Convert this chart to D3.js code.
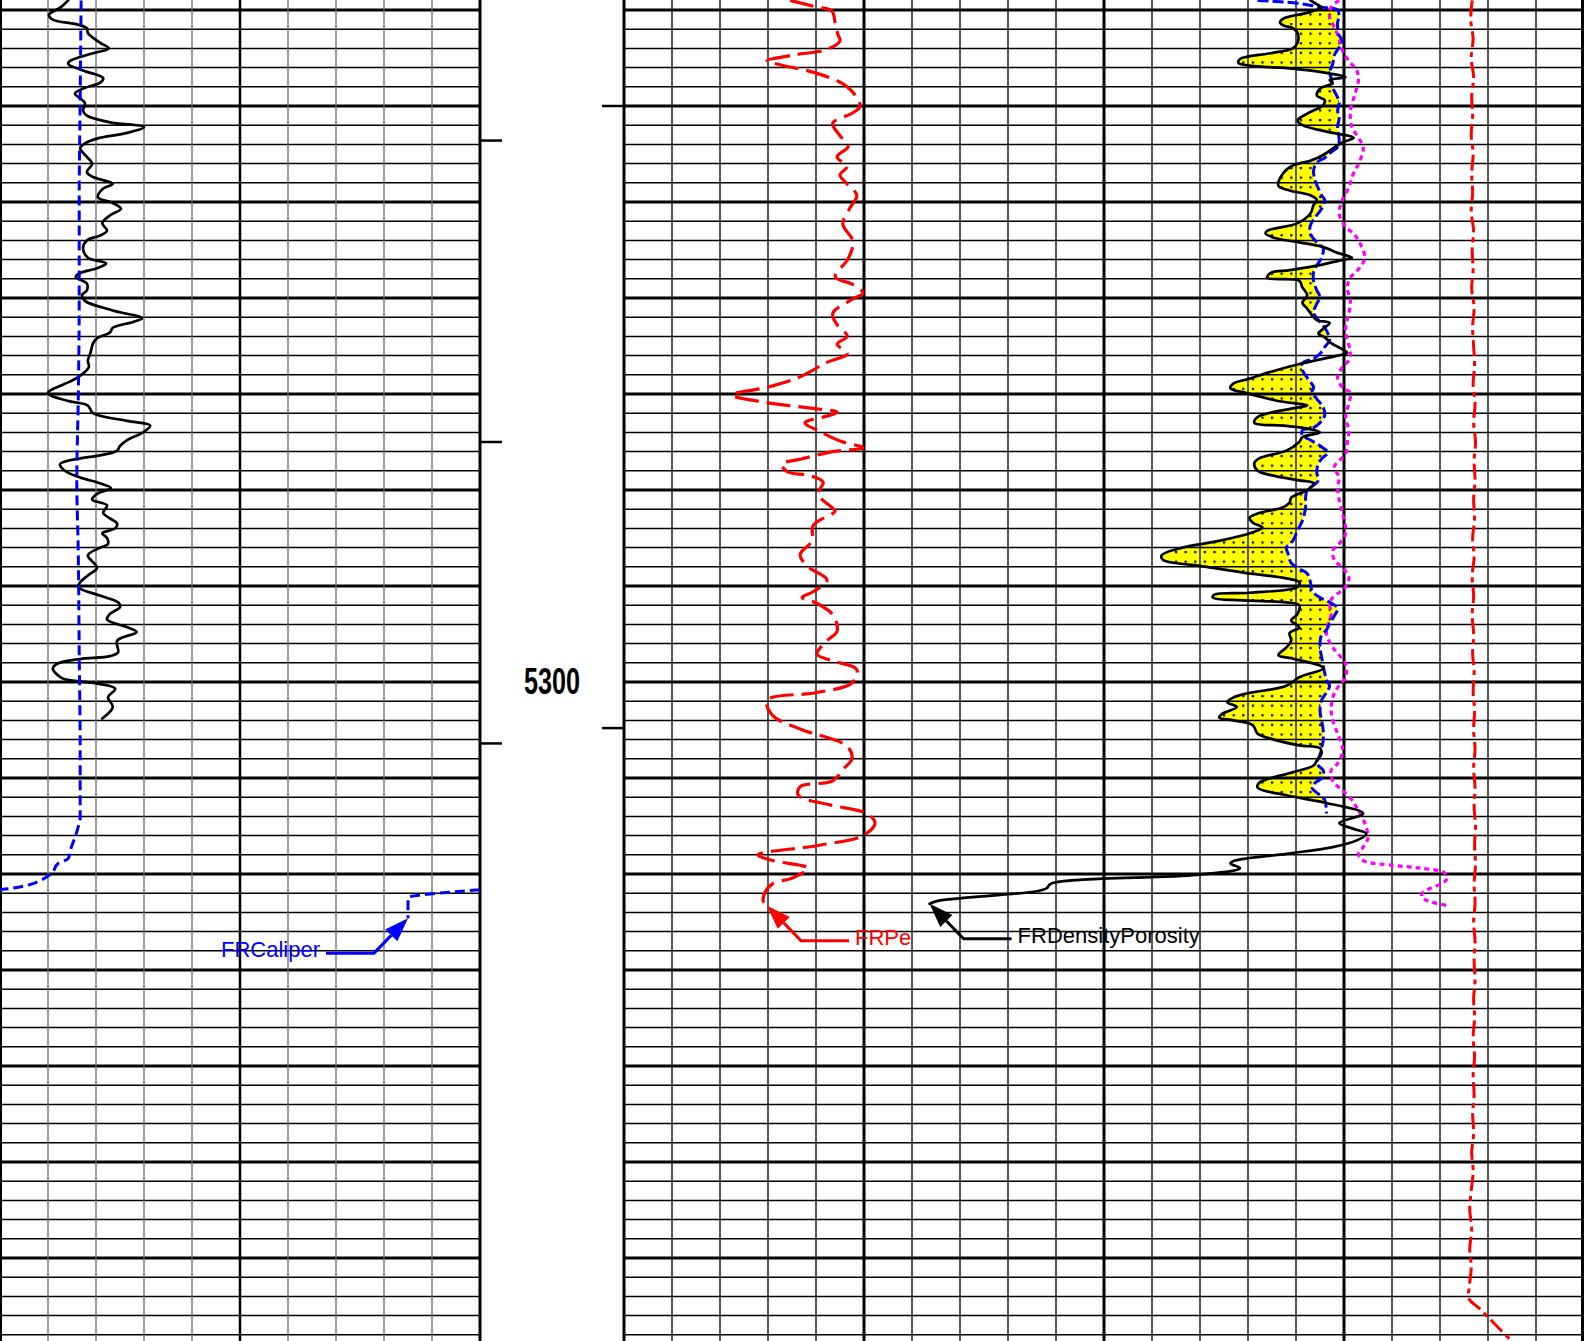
<!DOCTYPE html>
<html>
<head>
<meta charset="utf-8">
<script src="https://cdn.jsdelivr.net/npm/d3@7"></script>
<style>
  html, body { margin: 0; padding: 0; background: #fff; overflow: hidden; }
  svg { display: block; }
</style>
</head>
<body>
<svg id="log" width="1584" height="1341"></svg>
<script>
// ---- Log curves: [depth (ft), value] ----
// Gamma ray, API (left track, 0-100)
const gammaRay = [[5229.0,14.2],[5229.7,12.7],[5230.5,10.2],[5231.0,11.0],[5231.5,16.0],[5231.9,18.1],[5232.4,18.3],[5233.4,20.8],[5234.0,22.7],[5234.5,19.4],[5235.3,14.6],[5235.6,14.2],[5236.3,17.3],[5237.1,21.5],[5237.6,20.8],[5238.1,17.7],[5238.7,15.6],[5239.2,16.7],[5239.7,17.7],[5240.5,17.3],[5241.0,18.1],[5241.7,22.9],[5242.2,30.0],[5242.8,26.5],[5243.4,20.2],[5243.9,17.7],[5244.4,16.7],[5245.4,18.3],[5246.0,19.2],[5246.9,18.1],[5247.4,19.4],[5248.1,23.5],[5248.6,21.5],[5249.5,20.4],[5250.1,23.5],[5250.7,25.2],[5251.4,22.9],[5252.2,21.3],[5253.0,22.3],[5253.5,20.8],[5254.0,18.1],[5254.8,17.3],[5255.8,18.3],[5256.4,22.1],[5256.9,20.2],[5257.4,16.7],[5257.8,15.8],[5258.5,18.1],[5259.2,18.1],[5259.7,17.1],[5260.3,17.7],[5261.3,23.5],[5262.1,29.6],[5262.5,27.7],[5263.1,23.5],[5263.6,22.9],[5264.2,20.2],[5264.7,19.4],[5265.8,18.8],[5266.5,18.3],[5267.2,18.5],[5268.1,16.7],[5268.6,15.0],[5269.9,10.0],[5270.7,14.0],[5271.2,18.3],[5272.0,19.4],[5272.8,26.5],[5273.3,31.3],[5274.0,29.8],[5274.8,26.5],[5275.4,25.0],[5275.9,24.4],[5276.4,20.8],[5276.7,16.7],[5277.3,12.5],[5278.0,13.5],[5278.7,16.7],[5279.3,20.8],[5279.8,23.1],[5280.4,20.2],[5281.0,19.2],[5281.6,22.3],[5282.4,21.5],[5283.5,24.4],[5284.0,24.0],[5284.5,21.3],[5285.0,22.3],[5285.6,22.5],[5286.1,20.4],[5286.8,18.3],[5288.1,20.2],[5288.9,18.3],[5289.6,16.7],[5290.1,16.3],[5291.0,20.8],[5291.7,24.6],[5292.2,25.0],[5292.9,22.9],[5293.5,22.3],[5294.3,26.5],[5294.8,28.5],[5295.7,24.4],[5296.9,24.6],[5297.3,22.9],[5297.6,16.7],[5298.1,11.9],[5298.6,11.0],[5299.6,12.9],[5299.9,16.0],[5300.1,19.4],[5300.7,24.0],[5301.6,22.5],[5302.6,23.5],[5303.8,21.3]];

// FRCaliper, inches (left track 6-16, wraps around below 6)
const caliper = [[5229.0,7.69],[5239.4,7.67],[5249.8,7.65],[5260.3,7.65],[5270.7,7.63],[5279.0,7.60],[5286.3,7.63],[5296.7,7.65],[5307.1,7.67],[5314.1,7.67],[5315.1,7.63],[5316.2,7.56],[5317.3,7.48],[5318.4,7.42],[5318.9,7.21],[5319.9,7.08],[5320.7,6.83],[5321.1,6.63],[5321.6,6.06],[5322.5,4.50],[5324.6,4.50]];

// FRPe, b/e (right track 0-20)
const photoElectric = [[5229.0,3.46],[5229.7,4.02],[5230.1,4.33],[5231.4,4.40],[5232.6,4.46],[5233.2,4.50],[5234.1,4.23],[5234.7,3.52],[5235.3,2.98],[5235.7,3.25],[5236.6,4.02],[5238.0,4.65],[5240.0,4.92],[5240.7,4.77],[5241.8,4.35],[5243.1,4.50],[5244.2,4.67],[5245.3,4.44],[5246.3,4.65],[5247.2,4.50],[5249.3,4.85],[5250.6,4.71],[5252.3,4.56],[5254.1,4.77],[5255.9,4.67],[5257.8,4.40],[5258.6,4.77],[5259.5,4.98],[5260.1,4.77],[5261.6,4.35],[5262.8,4.44],[5264.0,4.65],[5264.8,4.44],[5265.8,4.65],[5266.7,4.23],[5268.2,3.67],[5269.3,2.98],[5270.1,2.25],[5270.9,2.98],[5271.5,3.94],[5271.9,4.44],[5272.3,4.23],[5273.0,3.77],[5273.9,4.08],[5274.9,4.50],[5275.6,4.98],[5276.0,4.35],[5276.8,3.67],[5277.3,3.29],[5278.1,3.40],[5278.5,3.88],[5279.2,4.15],[5280.4,4.04],[5281.9,4.35],[5282.2,4.40],[5283.7,3.94],[5285.3,3.92],[5286.7,3.67],[5287.9,3.81],[5289.4,4.23],[5290.6,3.94],[5291.2,3.71],[5291.8,4.02],[5293.0,4.35],[5294.7,4.44],[5295.7,4.23],[5297.1,4.02],[5297.8,4.35],[5298.7,4.85],[5300.1,4.75],[5301.1,4.02],[5301.9,2.98],[5303.5,3.10],[5304.9,3.67],[5306.7,4.65],[5308.0,4.75],[5309.1,4.56],[5310.3,4.35],[5310.9,3.67],[5311.8,3.63],[5312.8,4.29],[5313.7,5.06],[5314.7,5.23],[5316.0,4.98],[5317.0,4.08],[5318.0,2.79],[5318.6,3.10],[5319.4,3.83],[5320.4,3.52],[5321.0,3.10],[5321.9,2.94],[5322.8,2.90],[5323.3,2.98]];

// FRDensityPorosity, % (right track 45 to -15)
const densityPorosity = [[5229.0,2.1],[5229.5,1.6],[5229.7,1.4],[5230.3,2.3],[5230.6,3.2],[5230.9,3.8],[5231.3,4.0],[5231.6,3.8],[5231.9,3.2],[5232.4,2.9],[5233.4,2.9],[5234.0,3.2],[5234.5,4.6],[5235.1,6.5],[5235.5,6.6],[5235.8,5.9],[5236.1,3.2],[5236.5,1.3],[5237.0,-0.1],[5237.3,0.9],[5237.6,0.7],[5238.2,1.5],[5238.9,1.7],[5239.4,1.2],[5239.9,1.3],[5240.8,2.3],[5241.5,2.9],[5242.0,2.6],[5242.8,0.7],[5243.3,-0.6],[5243.8,0.1],[5244.3,0.6],[5245.1,1.3],[5245.7,2.1],[5246.2,3.2],[5247.0,3.8],[5248.3,4.1],[5248.8,3.4],[5249.3,2.1],[5249.8,1.7],[5250.3,1.9],[5251.2,2.1],[5252.2,2.9],[5253.0,4.8],[5253.3,4.9],[5253.8,4.2],[5254.2,2.8],[5254.7,1.3],[5255.3,0.4],[5255.8,-0.5],[5256.1,0.3],[5256.6,1.6],[5257.1,3.4],[5257.4,4.6],[5257.9,4.8],[5258.2,2.8],[5258.9,2.6],[5259.7,2.3],[5260.5,2.6],[5261.1,2.3],[5261.8,2.0],[5262.3,1.7],[5262.6,0.9],[5263.2,1.3],[5263.7,1.6],[5264.1,1.2],[5264.7,0.8],[5265.7,-0.2],[5266.0,0.4],[5266.8,2.6],[5267.8,4.8],[5268.4,5.9],[5268.9,6.9],[5269.4,7.1],[5269.9,6.1],[5270.7,4.2],[5271.2,2.3],[5271.5,3.2],[5272.4,5.4],[5273.0,5.6],[5273.3,3.8],[5273.6,2.3],[5274.0,1.5],[5274.5,2.6],[5275.0,2.8],[5275.9,3.6],[5276.7,5.3],[5277.2,5.6],[5278.0,5.4],[5278.5,4.4],[5279.0,2.8],[5279.3,1.9],[5280.0,2.3],[5280.8,3.3],[5281.3,3.4],[5281.8,3.8],[5282.4,5.3],[5282.9,5.9],[5283.4,5.7],[5283.9,5.1],[5284.4,5.7],[5285.3,7.8],[5286.0,10.1],[5286.8,11.4],[5287.3,11.3],[5287.9,9.0],[5288.6,6.3],[5289.2,3.6],[5289.6,2.8],[5290.1,2.9],[5290.7,5.9],[5290.9,8.1],[5291.2,8.2],[5291.5,6.3],[5291.7,3.6],[5292.0,2.8],[5292.9,2.9],[5293.6,3.3],[5294.3,2.8],[5294.9,3.4],[5295.7,3.3],[5296.4,3.6],[5297.2,4.1],[5297.5,3.4],[5298.3,1.5],[5298.6,1.3],[5299.5,2.8],[5300.4,3.6],[5301.2,6.1],[5301.6,6.9],[5302.1,7.3],[5302.6,6.7],[5303.3,7.6],[5303.7,7.8],[5304.0,6.9],[5304.5,5.7],[5305.4,5.4],[5305.9,4.6],[5306.6,2.8],[5306.9,1.5],[5307.4,1.4],[5308.2,1.7],[5308.7,1.9],[5309.4,3.2],[5310.5,5.3],[5311.0,5.4],[5311.8,3.6],[5312.6,1.1],[5313.7,-1.2],[5314.7,0.3],[5315.3,-0.6],[5315.8,-1.4],[5316.5,-0.8],[5317.2,0.7],[5317.9,3.6],[5318.6,6.8],[5318.9,7.1],[5319.4,6.5],[5320.1,9.2],[5321.0,18.3],[5321.5,18.6],[5321.8,19.2],[5322.8,25.4],[5323.1,25.9]];

// Neutron porosity, % (same scale as density porosity)
const neutronPorosity = [[5229.0,5.4],[5229.3,2.9],[5229.7,1.5],[5230.0,0.4],[5230.6,0.3],[5231.3,0.4],[5231.9,0.4],[5232.4,0.4],[5233.2,0.1],[5233.9,0.3],[5234.7,0.6],[5235.6,0.7],[5236.5,0.9],[5237.1,0.8],[5238.1,0.7],[5239.1,0.4],[5239.7,0.3],[5240.5,0.4],[5241.2,0.3],[5242.2,0.4],[5243.6,0.3],[5244.3,0.4],[5244.8,0.8],[5245.4,1.2],[5245.9,1.7],[5246.7,1.9],[5247.8,1.8],[5248.6,1.6],[5249.3,1.4],[5249.8,1.2],[5250.7,1.4],[5251.6,1.8],[5252.4,2.1],[5253.3,2.1],[5254.2,1.7],[5254.8,1.3],[5255.8,1.4],[5256.6,1.7],[5257.3,1.9],[5258.2,1.9],[5259.2,1.7],[5259.9,1.5],[5260.6,1.7],[5261.5,1.9],[5262.3,1.6],[5263.1,1.2],[5263.7,1.0],[5264.4,0.9],[5265.1,1.2],[5265.8,1.5],[5266.3,1.9],[5266.8,2.6],[5267.5,2.6],[5268.3,2.3],[5269.3,1.9],[5269.8,2.0],[5270.5,1.7],[5271.4,1.3],[5272.2,1.2],[5273.0,1.5],[5273.5,1.9],[5273.8,2.6],[5274.3,2.6],[5274.8,2.1],[5275.4,1.5],[5276.1,1.0],[5276.6,1.3],[5277.2,1.6],[5278.2,1.7],[5279.0,1.6],[5279.5,1.9],[5280.0,2.3],[5280.8,2.4],[5281.8,2.4],[5283.2,2.6],[5284.2,2.9],[5285.3,3.2],[5286.0,3.6],[5286.6,3.5],[5287.6,3.3],[5288.2,2.8],[5288.7,2.3],[5289.6,2.1],[5290.5,2.0],[5291.2,1.5],[5291.7,0.9],[5292.3,0.4],[5293.1,0.6],[5293.9,0.9],[5294.6,1.1],[5295.1,1.4],[5296.4,1.5],[5297.4,1.4],[5298.3,1.3],[5299.1,1.2],[5299.8,1.1],[5300.4,0.9],[5301.1,1.1],[5301.9,1.4],[5303.0,1.5],[5304.0,1.4],[5305.0,1.3],[5306.1,1.3],[5306.9,1.4],[5307.6,1.5],[5308.5,1.7],[5309.2,1.3],[5309.9,1.3],[5310.5,1.8],[5311.0,2.0],[5311.8,1.5],[5312.3,1.2],[5313.7,1.1]];

// Sonic porosity, % (same scale as density porosity)
const sonicPorosity = [[5229.0,0.3],[5229.7,0.8],[5230.8,0.9],[5231.8,0.6],[5233.0,0.3],[5234.2,0.1],[5235.3,-0.3],[5236.3,-0.8],[5237.3,-0.9],[5238.7,-0.7],[5240.5,-0.4],[5242.2,-0.5],[5243.3,-0.9],[5244.3,-1.2],[5245.7,-1.0],[5247.0,-0.6],[5248.5,-0.3],[5249.8,0.1],[5251.2,0.3],[5252.6,-0.1],[5253.3,-0.6],[5254.3,-1.0],[5255.8,-1.3],[5256.8,-1.0],[5257.9,-0.4],[5258.9,-0.2],[5260.3,-0.4],[5261.6,-0.3],[5263.1,-0.1],[5264.4,-0.2],[5265.5,-0.4],[5266.5,-0.3],[5267.2,0.1],[5268.3,0.4],[5269.3,0.1],[5269.9,-0.4],[5271.0,-0.3],[5272.4,-0.1],[5273.8,-0.3],[5275.1,-0.2],[5276.2,-0.1],[5277.6,0.6],[5278.7,0.3],[5279.7,0.4],[5281.1,0.3],[5282.4,0.1],[5284.5,-0.1],[5285.6,0.3],[5286.3,0.7],[5287.3,0.6],[5288.1,0.1],[5289.1,-0.3],[5290.1,-0.1],[5291.2,0.7],[5291.8,0.9],[5292.9,0.8],[5294.9,1.1],[5296.4,0.7],[5297.2,0.3],[5298.1,-0.1],[5299.5,-0.1],[5300.6,0.4],[5301.6,0.7],[5303.0,0.8],[5304.0,0.7],[5305.4,0.4],[5306.8,0.1],[5307.4,0.1],[5308.5,0.4],[5309.2,0.8],[5310.3,0.7],[5311.3,0.1],[5312.3,-0.5],[5313.4,-0.9],[5314.7,-1.3],[5316.2,-1.5],[5317.2,-1.2],[5317.9,-0.9],[5318.6,-1.2],[5319.1,-3.1],[5319.4,-4.8],[5319.9,-6.3],[5320.6,-6.4],[5322.0,-4.9],[5322.5,-4.9],[5323.3,-6.5]];

// Cable tension, klbf (right track 0-20)
const tension = [[5229,17.67],[5231,17.64],[5233,17.69],[5235,17.65],[5237,17.70],[5239,17.66],[5241,17.68],[5243,17.65],[5245,17.69],[5247,17.66],[5249,17.68],[5251,17.65],[5253,17.70],[5255,17.67],[5257,17.69],[5259,17.66],[5261,17.71],[5263,17.68],[5265,17.70],[5267,17.72],[5269,17.69],[5271,17.73],[5273,17.70],[5275,17.74],[5277,17.71],[5279,17.73],[5281,17.70],[5283,17.72],[5285,17.68],[5287,17.71],[5289,17.67],[5291,17.70],[5293,17.67],[5295,17.70],[5297,17.68],[5299,17.71],[5301,17.69],[5303,17.72],[5305,17.70],[5307,17.73],[5309,17.70],[5311,17.73],[5313,17.71],[5315,17.74],[5317,17.72],[5319,17.74],[5321,17.71],[5323,17.73],[5325,17.70],[5327,17.73],[5329,17.71],[5331,17.73],[5333,17.70],[5335,17.72],[5337,17.69],[5339,17.72],[5341,17.69],[5343,17.71],[5345,17.68],[5347,17.70],[5349,17.66],[5351,17.69],[5353,17.65],[5355,17.62],[5357,17.66],[5359,17.62],[5361,17.65],[5363,17.61],[5364.2,17.60],[5365.3,17.83],[5368.7,18.50]];

// Depth track annotations
const depthLabels = [5300];
const leftTickDepths = [5243.6, 5275.0, 5306.4];
const rightTickDepths = [5240.0, 5304.8];
const curveNames = { caliper: "FRCaliper", pe: "FRPe", density: "FRDensityPorosity" };

// ---- Layout ----
const W = 1584, H = 1341;
const svg = d3.select("#log");

const y = d3.scaleLinear().domain([5300, 5310]).range([682, 778]);
const grX = d3.scaleLinear().domain([0, 100]).range([0, 480]);
const calX = d3.scaleLinear().domain([6, 16]).range([0, 480]);
const porX = d3.scaleLinear().domain([45, -15]).range([624, 1584]);
const peX = d3.scaleLinear().domain([0, 20]).range([624, 1584]);
const tenX = d3.scaleLinear().domain([0, 20]).range([624, 1584]);

const lineOf = (xs, curve = d3.curveCatmullRom.alpha(0.5)) => d3.line()
  .x(d => xs(d[1]))
  .y(d => y(d[0]))
  .curve(curve);

// ---- Crossover fill pattern ----
const defs = svg.append("defs");
const pat = defs.append("pattern")
  .attr("id", "dots").attr("patternUnits", "userSpaceOnUse")
  .attr("width", 9.6).attr("height", 9.6);
pat.append("rect").attr("width", 9.6).attr("height", 9.6).attr("fill", "#ffff00");
pat.append("rect").attr("x", 3.8).attr("y", 3.8).attr("width", 2.2).attr("height", 2.2).attr("fill", "#000");

const denPath = lineOf(porX)(densityPorosity);
const neuPath = lineOf(porX)(neutronPorosity);
const nTop = y(neutronPorosity[0][0]), nBot = y(neutronPorosity[neutronPorosity.length - 1][0]);
const dTop = y(densityPorosity[0][0]), dBot = y(densityPorosity[densityPorosity.length - 1][0]);
const [rx0, rx1] = porX.range();

defs.append("clipPath").attr("id", "left-of-neutron")
  .append("path")
  .attr("d", `${neuPath}L${rx0},${nBot}L${rx0},${nTop}Z`);

svg.append("path")
  .attr("d", `${denPath}L${rx1},${dBot}L${rx1},${dTop}Z`)
  .attr("fill", "url(#dots)")
  .attr("clip-path", "url(#left-of-neutron)");

// ---- Grid ----
const grid = svg.append("g").attr("class", "grid");
const gridDepths = d3.range(5230, 5370, 2);
const isMajorDepth = d => (d - 5230) % 10 === 0;

[[grX.range()[0], grX.range()[1]], [rx0, rx1]].forEach(([a, b]) => {
  grid.append("g").selectAll("line").data(gridDepths).join("line")
    .attr("x1", a).attr("x2", b)
    .attr("y1", d => y(d)).attr("y2", d => y(d))
    .attr("stroke", "#000")
    .attr("stroke-width", d => isMajorDepth(d) ? 3 : 1.5);
});

// left track verticals
const grLines = d3.range(10, 100, 10);
grid.append("g").selectAll("line").data(grLines).join("line")
  .attr("x1", d => grX(d)).attr("x2", d => grX(d))
  .attr("y1", 0).attr("y2", H)
  .attr("stroke", d => d === 50 ? "#000" : "#6a6a6a")
  .attr("stroke-width", d => d === 50 ? 2.5 : 1.3);

// right track verticals
const porLines = d3.range(42, -15, -3);
grid.append("g").selectAll("line").data(porLines).join("line")
  .attr("x1", d => porX(d)).attr("x2", d => porX(d))
  .attr("y1", 0).attr("y2", H)
  .attr("stroke", d => (45 - d) % 15 === 0 ? "#000" : "#222")
  .attr("stroke-width", d => (45 - d) % 15 === 0 ? 3 : 1.5);

// track borders
[[1, 2], [grX(100), 3], [rx0, 3], [rx1 - 1.5, 3]].forEach(([x, w]) => {
  grid.append("line").attr("x1", x).attr("x2", x).attr("y1", 0).attr("y2", H)
    .attr("stroke", "#000").attr("stroke-width", w);
});

// ---- Depth track ----
const depthG = svg.append("g");
depthG.selectAll("line.lt").data(leftTickDepths).join("line")
  .attr("x1", grX(100)).attr("x2", grX(100) + 22)
  .attr("y1", d => y(d)).attr("y2", d => y(d))
  .attr("stroke", "#000").attr("stroke-width", 2.5);
depthG.selectAll("line.rt").data(rightTickDepths).join("line")
  .attr("x1", rx0 - 22).attr("x2", rx0)
  .attr("y1", d => y(d)).attr("y2", d => y(d))
  .attr("stroke", "#000").attr("stroke-width", 2.5);
depthG.selectAll("text").data(depthLabels).join("text")
  .attr("x", (grX(100) + rx0) / 2)
  .attr("y", d => y(d) + 12)
  .attr("text-anchor", "middle")
  .attr("font-family", "'Liberation Sans Narrow','Arial Narrow','Liberation Sans',Arial,sans-serif")
  .attr("font-weight", "bold")
  .attr("font-size", 36)
  .attr("textLength", 56)
  .attr("lengthAdjust", "spacingAndGlyphs")
  .attr("fill", "#000")
  .text(d => d);

// ---- Curves ----
const curves = svg.append("g").attr("fill", "none")
  .attr("stroke-linejoin", "round").attr("stroke-linecap", "round");

// gamma ray
curves.append("path").attr("d", lineOf(grX)(gammaRay))
  .attr("stroke", "#000").attr("stroke-width", 2.7);

// caliper, wrapped onto the backup scale where it drops below 6 in
function wrapSegments(data, lo, hi) {
  const span = hi - lo, segs = [];
  let cur = [];
  data.forEach((p, i) => {
    if (i > 0) {
      const q = data[i - 1];
      if ((q[1] >= lo) !== (p[1] >= lo)) {
        const t = (lo - q[1]) / (p[1] - q[1]);
        const dc = q[0] + t * (p[0] - q[0]);
        const goingDown = p[1] < lo;
        cur.push([dc, goingDown ? lo : hi]);
        segs.push(cur);
        cur = [[dc + 0.01, goingDown ? hi - 0.001 : lo]];
      }
    }
    cur.push([p[0], p[1] < lo ? p[1] + span : p[1]]);
  });
  segs.push(cur);
  return segs;
}
const calSegs = wrapSegments(caliper, 6, 16);
calSegs.forEach(seg => {
  curves.append("path").attr("d", lineOf(calX, d3.curveMonotoneY)(seg))
    .attr("stroke", "#0000ff").attr("stroke-width", 3)
    .attr("stroke-linecap", "butt")
    .attr("stroke-dasharray", "10,5");
});

// Pe
curves.append("path").attr("d", lineOf(peX)(photoElectric))
  .attr("stroke", "#ff0000").attr("stroke-width", 3.2)
  .attr("stroke-linecap", "butt")
  .attr("stroke-dasharray", "24,8");

// sonic porosity
curves.append("path").attr("d", lineOf(porX)(sonicPorosity))
  .attr("stroke", "#ff00ff").attr("stroke-width", 3.2)
  .attr("stroke-linecap", "butt")
  .attr("stroke-dasharray", "5,4");

// neutron porosity
curves.append("path").attr("d", neuPath)
  .attr("stroke", "#0000ff").attr("stroke-width", 3)
  .attr("stroke-linecap", "butt")
  .attr("stroke-dasharray", "11,4");

// density porosity
curves.append("path").attr("d", denPath)
  .attr("stroke", "#000").attr("stroke-width", 2.7);

// tension
curves.append("path").attr("d", lineOf(tenX)(tension))
  .attr("stroke", "#ff0000").attr("stroke-width", 3)
  .attr("stroke-linecap", "butt")
  .attr("stroke-dasharray", "16,5,5,5");

// ---- Curve name callouts ----
const labels = svg.append("g");
function callout(tip, dir, name, color) {
  const knee = [tip[0] + dir * 34, tip[1] + 35];
  const end = [knee[0] + dir * 48, knee[1]];
  const ang = Math.atan2(tip[1] - knee[1], tip[0] - knee[0]);
  const L = 24, hw = 8.5;
  const bx = tip[0] - L * Math.cos(ang), by = tip[1] - L * Math.sin(ang);
  const px = -Math.sin(ang) * hw, py = Math.cos(ang) * hw;
  labels.append("path")
    .attr("d", `M${bx},${by}L${knee}L${end}`)
    .attr("fill", "none").attr("stroke", color).attr("stroke-width", 3);
  labels.append("path")
    .attr("d", `M${tip}L${bx + px},${by + py}L${bx - px},${by - py}Z`)
    .attr("fill", color);
  labels.append("text")
    .attr("x", end[0] + dir * 6).attr("y", end[1] + 4)
    .attr("text-anchor", dir > 0 ? "start" : "end")
    .attr("font-family", "'Liberation Sans',Arial,sans-serif")
    .attr("font-size", 22)
    .attr("fill", color)
    .text(name);
}
const lastCal = calSegs[calSegs.length - 1];
const calEnd = lastCal[lastCal.length - 1];
callout([calX(calEnd[1]), y(calEnd[0])], -1, curveNames.caliper, "#0000ff");
const peEnd = photoElectric[photoElectric.length - 1];
callout([peX(peEnd[1]), y(peEnd[0])], 1, curveNames.pe, "#ff0000");
const denEnd = densityPorosity[densityPorosity.length - 1];
callout([porX(denEnd[1]), y(denEnd[0])], 1, curveNames.density, "#000");
</script>
</body>
</html>
